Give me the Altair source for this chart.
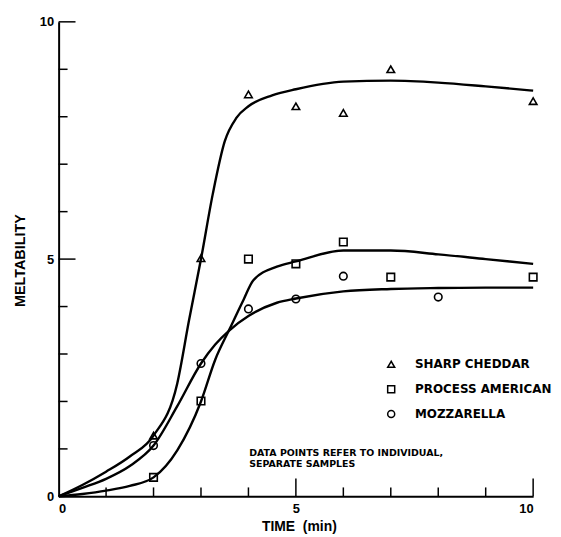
import altair as alt
import pandas as pd

series_names = ["SHARP CHEDDAR", "PROCESS AMERICAN", "MOZZARELLA"]
shape_range = ["triangle-up", "square", "circle"]

# measured points
cheddar_x = [2, 3, 4, 5, 6, 7, 10]
cheddar_y = [1.28, 5.02, 8.47, 8.22, 8.08, 9.0, 8.33]
american_x = [2, 3, 4, 5, 6, 7, 10]
american_y = [0.40, 2.01, 5.0, 4.9, 5.36, 4.62, 4.62]
mozz_x = [2, 3, 4, 5, 6, 8]
mozz_y = [1.07, 2.8, 3.95, 4.16, 4.64, 4.2]

# fitted curves
cheddar_curve_x = [0, 0.5, 1, 1.5, 2, 2.5, 2.75, 3, 3.25, 3.5, 3.75, 4, 4.5, 5, 6, 7, 8, 9, 10]
cheddar_curve_y = [0, 0.24, 0.52, 0.84, 1.28, 2.38, 3.72, 5.0, 6.38, 7.48, 7.98, 8.22, 8.45, 8.58, 8.74, 8.76, 8.72, 8.64, 8.55]
american_curve_x = [0, 0.5, 1, 1.5, 2, 2.5, 3, 3.3, 3.6, 3.9, 4.1, 4.6, 5, 6, 7, 8, 9, 10]
american_curve_y = [0, 0.05, 0.12, 0.22, 0.40, 0.97, 2.0, 2.88, 3.52, 4.15, 4.55, 4.84, 4.95, 5.18, 5.18, 5.1, 5.0, 4.9]
mozz_curve_x = [0, 0.5, 1, 1.5, 2, 2.5, 3, 3.3, 3.6, 4, 4.6, 5, 6, 7, 8, 9, 10]
mozz_curve_y = [0, 0.18, 0.37, 0.64, 1.07, 1.9, 2.8, 3.2, 3.5, 3.8, 4.08, 4.17, 4.32, 4.37, 4.39, 4.4, 4.4]

minor_ticks = [1, 2, 3, 4, 6, 7, 8, 9]
major_ticks = [5, 10]
axis_labels = [0, 5, 10]
note_lines = ["DATA POINTS REFER TO INDIVIDUAL,", "SEPARATE SAMPLES"]
x_title = "TIME\u00a0\u00a0(min)"
y_title = "MELTABILITY"

FONT = "Liberation Sans"
FONT2 = "DejaVu Sans"
W, H = 478, 478

pts = pd.concat([
    pd.DataFrame({"t": cheddar_x, "m": cheddar_y, "cheese": series_names[0]}),
    pd.DataFrame({"t": american_x, "m": american_y, "cheese": series_names[1]}),
    pd.DataFrame({"t": mozz_x, "m": mozz_y, "cheese": series_names[2]}),
])
curves = pd.concat([
    pd.DataFrame({"t": cheddar_curve_x, "m": cheddar_curve_y, "cheese": series_names[0]}),
    pd.DataFrame({"t": american_curve_x, "m": american_curve_y, "cheese": series_names[1]}),
    pd.DataFrame({"t": mozz_curve_x, "m": mozz_curve_y, "cheese": series_names[2]}),
])

xscale = alt.Scale(domain=[0, 10], nice=False, zero=False)
yscale = alt.Scale(domain=[0, 10], nice=False, zero=False)

xaxis = alt.Axis(values=axis_labels, ticks=False, tickSize=0, grid=False, domainColor="black",
                 domainWidth=2, labelPadding=6, labelFont=FONT, labelFontSize=13, labelFontWeight="bold",
                 labelColor="black", title=x_title, titleFont=FONT, titleFontSize=14,
                 titleFontWeight="bold", titleColor="black", titleX=242, titleY=23)
yaxis = alt.Axis(values=axis_labels, ticks=False, tickSize=0, grid=False, domainColor="black",
                 domainWidth=2, labelPadding=5, labelFont=FONT, labelFontSize=13, labelFontWeight="bold",
                 labelColor="black", title=y_title, titleFont=FONT, titleFontSize=14.5,
                 titleFontWeight="bold", titleColor="black", titleX=-38, titleY=240, titleAngle=270,
                 titleAlign="center", titleBaseline="middle")

lines = alt.Chart(curves).mark_line(interpolate="monotone", color="black", strokeWidth=2.4).encode(
    x=alt.X("t:Q", scale=xscale, axis=xaxis),
    y=alt.Y("m:Q", scale=yscale, axis=yaxis),
    detail="cheese:N",
)

points = alt.Chart(pts).mark_point(filled=False, color="black", size=58, strokeWidth=1.6, opacity=1).encode(
    x=alt.X("t:Q", scale=xscale),
    y=alt.Y("m:Q", scale=yscale),
    shape=alt.Shape("cheese:N", scale=alt.Scale(domain=series_names, range=shape_range),
                    legend=alt.Legend(orient="none", legendX=329, legendY=339, title=None,
                                      labelFont=FONT2, labelFontSize=12, labelFontWeight="bold",
                                      labelColor="black", symbolSize=50, symbolStrokeWidth=1.5,
                                      symbolStrokeColor="black", symbolFillColor="white",
                                      rowPadding=11, labelOffset=18, padding=0)),
)

ytick_minor = alt.Chart(pd.DataFrame({"v": minor_ticks})).mark_rule(color="black", strokeWidth=1.5).encode(
    y=alt.Y("v:Q", scale=yscale), x=alt.value(0), x2=alt.value(9))
ytick_major = alt.Chart(pd.DataFrame({"v": major_ticks})).mark_rule(color="black", strokeWidth=1.5).encode(
    y=alt.Y("v:Q", scale=yscale), x=alt.value(0), x2=alt.value(17))
xtick_minor = alt.Chart(pd.DataFrame({"v": minor_ticks})).mark_rule(color="black", strokeWidth=1.5).encode(
    x=alt.X("v:Q", scale=xscale), y=alt.value(H), y2=alt.value(H - 9))
xtick_major = alt.Chart(pd.DataFrame({"v": major_ticks})).mark_rule(color="black", strokeWidth=1.5).encode(
    x=alt.X("v:Q", scale=xscale), y=alt.value(H), y2=alt.value(H - 18))

note = alt.Chart(pd.DataFrame({"a": [0]})).mark_text(
    text=note_lines, align="left", baseline="middle", font=FONT2, fontSize=9.5, fontWeight="bold",
    color="black", lineHeight=11.5).encode(x=alt.value(192), y=alt.value(434))

chart = alt.layer(ytick_minor, ytick_major, xtick_minor, xtick_major, lines, points, note).properties(
    width=W, height=H,
    autosize=alt.AutoSizeParams(type="none"),
    padding={"left": 51, "top": 12, "right": 20, "bottom": 39},
    background="white",
).configure_view(stroke=None)

chart.save("out.html", embed_options={"renderer": "svg", "actions": False})
